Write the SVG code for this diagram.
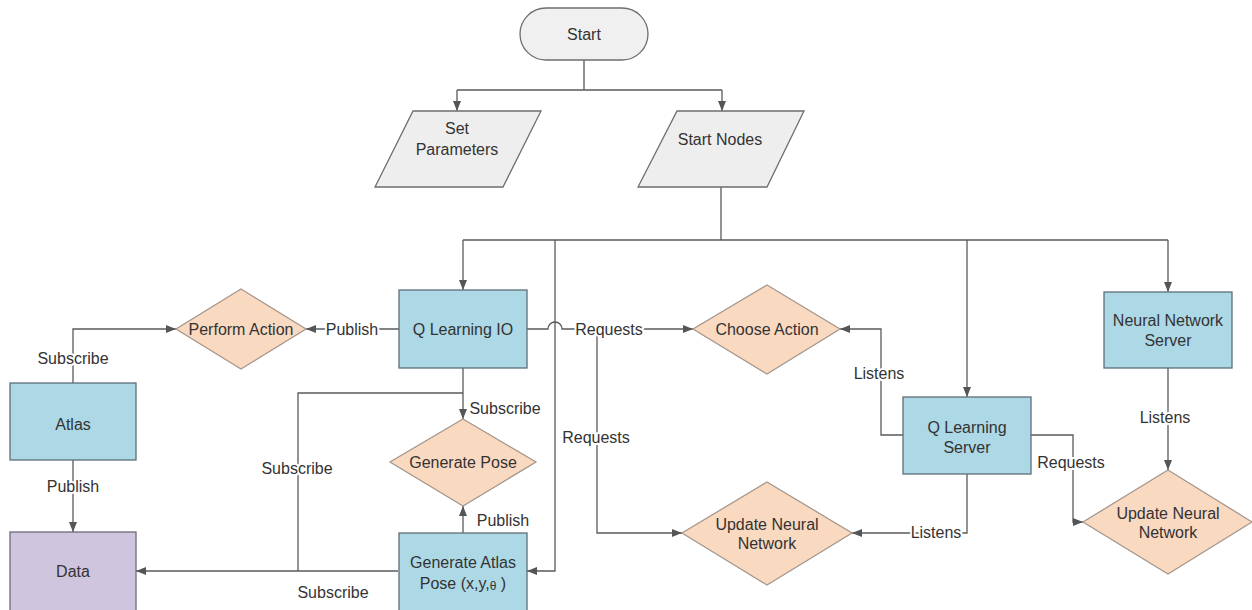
<svg xmlns="http://www.w3.org/2000/svg" width="1252" height="610" viewBox="0 0 1252 610">
  <style>
    text { font-family: "Liberation Sans", Arial, sans-serif; font-size: 16px; fill: #333; text-anchor: middle; dominant-baseline: central; }
    .proc { fill: #add8e6; stroke: #5f6f78; stroke-width: 1.3; }
    .data { fill: #cfc5de; stroke: #6f6a78; stroke-width: 1.3; }
    .dec  { fill: #fad9c1; stroke: #a6978d; stroke-width: 1.3; }
    .io   { fill: #eeeeee; stroke: #6e6e6e; stroke-width: 1.3; }
    .term { fill: #f0f0f0; stroke: #6e6e6e; stroke-width: 1.3; }
    .edge { fill: none; stroke: #5a5a5a; stroke-width: 1.3; }
    .arr  { marker-end: url(#ah); }
    .lbl  { stroke: #ffffff; stroke-width: 4; paint-order: stroke; stroke-linejoin: round; }
  </style>
  <defs>
    <marker id="ah" markerUnits="userSpaceOnUse" markerWidth="10" markerHeight="10" viewBox="0 0 10 10" refX="10" refY="5" orient="auto">
      <path d="M0,1 L10,5 L0,9 Z" fill="#555"/>
    </marker>
  </defs>
  <rect width="1252" height="610" fill="#ffffff"/>

  <!-- connectors -->
  <g id="connectors">
    <path class="edge" d="M584,60 V90 M457,90 H722"/>
    <path class="edge arr" d="M457,90 V111"/>
    <path class="edge arr" d="M722,90 V111"/>

    <path class="edge" d="M721,187 V240 M463,240 H1168"/>
    <path class="edge arr" d="M463,240 V290"/>
    <path class="edge arr" d="M967,240 V397"/>
    <path class="edge arr" d="M1168,240 V292"/>
    <path class="edge arr" d="M555,240 V571 H527"/>

    <path class="edge arr" d="M399,329 H306"/>
    <path class="edge arr" d="M73,383 V329 H176"/>
    <path class="edge arr" d="M73,460 V532"/>

    <path class="edge arr" d="M463,368 V419"/>
    <path class="edge" d="M298,571 V393 H463"/>
    <path class="edge arr" d="M398,571 H136"/>
    <path class="edge arr" d="M463,533 V506"/>

    <path class="edge arr" d="M527,329 H548 A7,7 0 0 1 562,329 H693"/>
    <path class="edge arr" d="M597,329 V533 H682"/>

    <path class="edge arr" d="M903,435 H881 V329 H840"/>
    <path class="edge arr" d="M967,474 V533 H852"/>
    <path class="edge arr" d="M1031,435 H1073 V522 H1083"/>
    <path class="edge arr" d="M1168,368 V470"/>

    <!-- connector labels -->
    <text class="lbl" x="352" y="329">Publish</text>
    <text class="lbl" x="73" y="358">Subscribe</text>
    <text class="lbl" x="73" y="486">Publish</text>
    <text class="lbl" x="505" y="408">Subscribe</text>
    <text class="lbl" x="297" y="468">Subscribe</text>
    <text class="lbl" x="333" y="592">Subscribe</text>
    <text class="lbl" x="503" y="520">Publish</text>
    <text class="lbl" x="609" y="329">Requests</text>
    <text class="lbl" x="596" y="437">Requests</text>
    <text class="lbl" x="879" y="373">Listens</text>
    <text class="lbl" x="936" y="532">Listens</text>
    <text class="lbl" x="1071" y="462">Requests</text>
    <text class="lbl" x="1165" y="417">Listens</text>
  </g>

  <g id="start">
    <rect class="term" x="520" y="8" width="128" height="52" rx="26" ry="26"/>
    <text x="584" y="34">Start</text>
  </g>

  <g id="set-parameters">
    <polygon class="io" points="413,111 541,111 503,187 375,187"/>
    <text x="457" y="128">Set</text>
    <text x="457" y="149">Parameters</text>
  </g>

  <g id="start-nodes">
    <polygon class="io" points="677,111 804,111 767,187 638,187"/>
    <text x="720" y="139">Start Nodes</text>
  </g>

  <g id="q-learning-io">
    <rect class="proc" x="399" y="290" width="128" height="78"/>
    <text x="463" y="329">Q Learning IO</text>
  </g>

  <g id="perform-action">
    <polygon class="dec" points="241,289 306,329 241,369 176,329"/>
    <text x="241" y="329">Perform Action</text>
  </g>

  <g id="atlas">
    <rect class="proc" x="10" y="383" width="126" height="77"/>
    <text x="73" y="424">Atlas</text>
  </g>

  <g id="data">
    <rect class="data" x="10" y="532" width="126" height="79"/>
    <text x="73" y="571">Data</text>
  </g>

  <g id="generate-pose">
    <polygon class="dec" points="463,419 536,462 463,506 390,462"/>
    <text x="463" y="462">Generate Pose</text>
  </g>

  <g id="generate-atlas-pose">
    <rect class="proc" x="399" y="533" width="128" height="79"/>
    <text x="463" y="562">Generate Atlas</text>
    <text x="463" y="583">Pose (x,y,<tspan font-size="12" dy="3">θ</tspan><tspan dy="-3"> )</tspan></text>
  </g>

  <g id="choose-action">
    <polygon class="dec" points="767,285 840,329 767,374 693,329"/>
    <text x="767" y="329">Choose Action</text>
  </g>

  <g id="update-nn-left">
    <polygon class="dec" points="767,482 852,533 767,585 682,533"/>
    <text x="767" y="524">Update Neural</text>
    <text x="767" y="543">Network</text>
  </g>

  <g id="q-learning-server">
    <rect class="proc" x="903" y="397" width="128" height="77"/>
    <text x="967" y="427">Q Learning</text>
    <text x="967" y="447">Server</text>
  </g>

  <g id="neural-network-server">
    <rect class="proc" x="1104" y="292" width="128" height="76"/>
    <text x="1168" y="320">Neural Network</text>
    <text x="1168" y="340">Server</text>
  </g>

  <g id="update-nn-right">
    <polygon class="dec" points="1168,470 1252,522 1168,574 1083,522"/>
    <text x="1168" y="513">Update Neural</text>
    <text x="1168" y="532">Network</text>
  </g>
</svg>
